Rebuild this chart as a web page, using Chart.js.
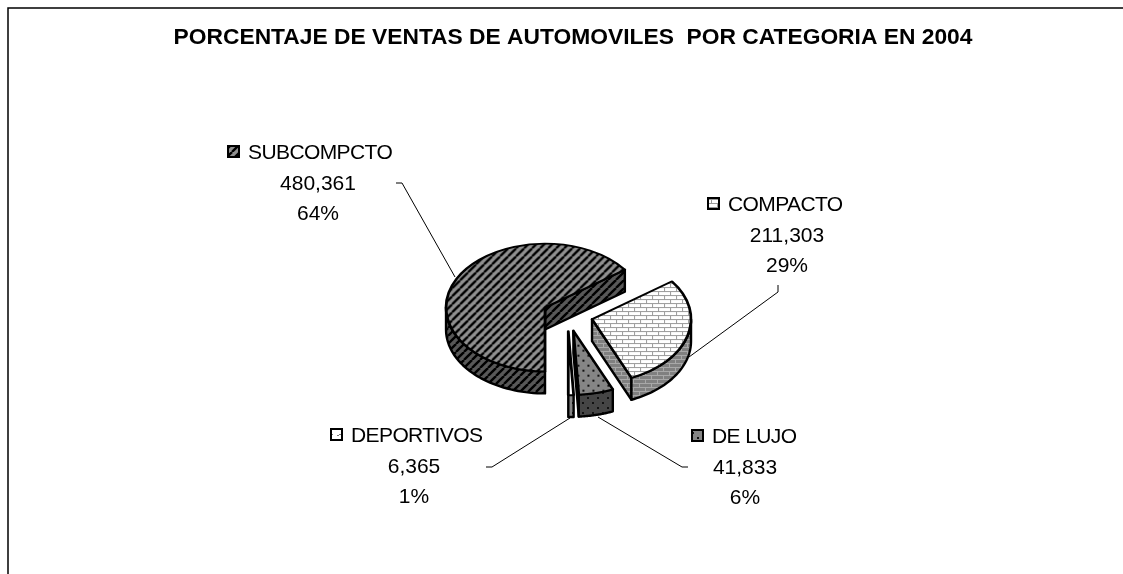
<!DOCTYPE html>
<html>
<head>
<meta charset="utf-8">
<title>Ventas de automoviles</title>
<script src="https://cdn.jsdelivr.net/npm/chart.js@4"></script>
<style>
  html, body { margin: 0; padding: 0; background: #fff; }
  canvas { display: block; }
</style>
</head>
<body>
<canvas id="canvas" width="1123" height="574"></canvas>
<script>
const titleText = 'PORCENTAJE DE VENTAS DE AUTOMOVILES  POR CATEGORIA EN 2004';
const categories = ['SUBCOMPCTO', 'COMPACTO', 'DE LUJO', 'DEPORTIVOS'];
const salesValues = [480361, 211303, 41833, 6365];
const valueLabels = ['480,361', '211,303', '41,833', '6,365'];
const percentLabels = ['64%', '29%', '6%', '1%'];

// look of the fake 3d pie
const tilt = 0.645;
const pieDepth = 22;
const explodePx = 25.3;
const pieShiftX = -5.4;

// where the labels sit: key x, text x, number centre x, first line y
const labelPlaces = [
  { keyX: 227, textX: 248, midX: 318, y: 153 },
  { keyX: 707, textX: 728, midX: 787, y: 205 },
  { keyX: 691, textX: 712, midX: 745, y: 437 },
  { keyX: 330, textX: 351, midX: 414, y: 436 }
];
const leaderLines = [
  [[396, 183], [402, 183], [455, 277]],
  [[778, 285], [778, 292], [689, 357]],
  [[688, 467], [682, 467], [598, 417]],
  [[486, 467], [492, 467], [570, 418]]
];

function makeTile(w, h, paint) {
  const c = document.createElement('canvas');
  c.width = w;
  c.height = h;
  paint(c.getContext('2d'));
  return c;
}

function hatch(bg) {
  return makeTile(8, 8, function (g) {
    g.fillStyle = bg;
    g.fillRect(0, 0, 8, 8);
    g.strokeStyle = '#000';
    g.lineWidth = 2.4;
    [-8, 0, 8, 16].forEach(function (o) {
      g.beginPath();
      g.moveTo(o, 8);
      g.lineTo(o + 8, 0);
      g.stroke();
    });
  });
}

function bricks(bg, line) {
  return makeTile(12, 8, function (g) {
    g.fillStyle = bg;
    g.fillRect(0, 0, 12, 8);
    g.fillStyle = line;
    g.fillRect(0, 3, 12, 1);
    g.fillRect(0, 7, 12, 1);
    g.fillRect(3, 0, 1, 3);
    g.fillRect(9, 4, 1, 3);
  });
}

function dots(bg) {
  return makeTile(10, 10, function (g) {
    g.fillStyle = bg;
    g.fillRect(0, 0, 10, 10);
    g.fillStyle = '#111';
    g.fillRect(2, 2, 2, 2);
    g.fillRect(7, 7, 2, 2);
  });
}

function waves(bg) {
  return makeTile(8, 6, function (g) {
    g.fillStyle = bg;
    g.fillRect(0, 0, 8, 6);
    g.fillStyle = '#777';
    g.fillRect(1, 3, 2, 1);
    g.fillRect(3, 2, 2, 1);
  });
}

const ctx = document.getElementById('canvas').getContext('2d');
const topTiles = [hatch('#909090'), bricks('#ffffff', '#9a9a9a'), dots('#858585'), waves('#ffffff')];
const wallTiles = [hatch('#585858'), bricks('#808080', '#a8a8a8'), dots('#454545'), dots('#858585')];

// the arcs get drawn squashed, this keeps the pattern itself from being squashed
const topPatterns = topTiles.map(function (tile) {
  const p = ctx.createPattern(tile, 'repeat');
  p.setTransform(new DOMMatrix().scale(1, 1 / tilt));
  return p;
});
const wallPatterns = wallTiles.map(function (tile) {
  return ctx.createPattern(tile, 'repeat');
});

function wallPath(g, points) {
  g.beginPath();
  points.forEach(function (p, i) {
    if (i === 0) g.moveTo(p[0], p[1]);
    else g.lineTo(p[0], p[1]);
  });
  g.closePath();
  g.fillStyle = g.wallFill;
  g.fill();
  g.stroke();
}

function drawWalls(g, arc, index, dx, dy) {
  const r = arc.outerRadius;
  const cx = arc.x + dx;
  const cy = arc.y + dy;
  const rim = function (a, down) {
    return [cx + r * Math.cos(a), cy + r * tilt * Math.sin(a) + down];
  };
  g.wallFill = wallPatterns[index];
  g.strokeStyle = '#000';
  g.lineWidth = 2.4;
  g.lineJoin = 'round';

  // flat cut faces, only the ones turned to the viewer
  [[arc.startAngle, -1], [arc.endAngle, 1]].forEach(function (edge) {
    if (edge[1] * Math.cos(edge[0]) > 0.001) {
      wallPath(g, [[cx, cy], rim(edge[0], 0), rim(edge[0], pieDepth), [cx, cy + pieDepth]]);
    }
  });

  // round face, front half only
  [[0, Math.PI], [2 * Math.PI, 3 * Math.PI]].forEach(function (part) {
    const a0 = Math.max(arc.startAngle, part[0]);
    const a1 = Math.min(arc.endAngle, part[1]);
    if (a1 <= a0) return;
    const upper = [];
    const lower = [];
    for (let i = 0; i <= 40; i++) {
      const a = a0 + (a1 - a0) * i / 40;
      upper.push(rim(a, 0));
      lower.unshift(rim(a, pieDepth));
    }
    wallPath(g, upper.concat(lower));
  });
}

const tiltedPie = {
  id: 'tiltedPie',
  beforeDatasetDraw: function (chart, args) {
    const g = chart.ctx;
    const arcs = chart.getDatasetMeta(args.index).data;
    arcs.forEach(function (arc, i) {
      const mid = (arc.startAngle + arc.endAngle) / 2;
      const dx = Math.cos(mid) * explodePx + pieShiftX;
      const dy = Math.sin(mid) * explodePx * tilt;
      g.save();
      drawWalls(g, arc, i, dx, dy);
      g.translate(arc.x + dx, arc.y + dy);
      g.scale(1, tilt);
      g.translate(-arc.x, -arc.y);
      arc.draw(g);
      g.restore();
    });
    return false;
  }
};

const frameAndLabels = {
  id: 'frameAndLabels',
  afterDraw: function (chart) {
    const g = chart.ctx;
    g.save();
    g.strokeStyle = '#000';
    g.lineWidth = 1.5;
    g.beginPath();
    g.moveTo(8, 574);
    g.lineTo(8, 8);
    g.lineTo(1123, 8);
    g.stroke();

    g.lineWidth = 1;
    leaderLines.forEach(function (line) {
      g.beginPath();
      line.forEach(function (p, i) {
        if (i === 0) g.moveTo(p[0], p[1]);
        else g.lineTo(p[0], p[1]);
      });
      g.stroke();
    });

    g.font = '21px "Liberation Sans", Arial, sans-serif';
    g.textBaseline = 'middle';
    categories.forEach(function (name, i) {
      const place = labelPlaces[i];
      g.fillStyle = g.createPattern(topTiles[i], 'repeat');
      g.fillRect(place.keyX + 1, place.y - 7, 11, 11);
      g.lineWidth = 2;
      g.strokeRect(place.keyX + 1, place.y - 7, 11, 11);
      g.fillStyle = '#000';
      g.textAlign = 'left';
      g.letterSpacing = '-0.6px';
      g.fillText(name, place.textX, place.y);
      g.textAlign = 'center';
      g.letterSpacing = '0px';
      g.fillText(valueLabels[i], place.midX, place.y + 31);
      g.fillText(percentLabels[i], place.midX, place.y + 61);
    });
    g.restore();
  }
};

new Chart(ctx, {
  type: 'pie',
  data: {
    labels: categories,
    datasets: [
      {
        data: salesValues,
        backgroundColor: topPatterns,
        borderColor: '#000',
        borderWidth: 2.8,
        borderJoinStyle: 'round',
        radius: 99
      }
    ]
  },
  options: {
    responsive: false,
    animation: false,
    rotation: 180,
    layout: { padding: { left: 23, top: 26 } },
    plugins: {
      legend: { display: false },
      tooltip: { enabled: false },
      title: {
        display: true,
        text: titleText,
        color: '#000',
        font: { family: '"Liberation Sans", Arial, sans-serif', size: 22.8, weight: 'bold', lineHeight: 1 },
        padding: { top: 0, bottom: 7 }
      }
    }
  },
  plugins: [tiltedPie, frameAndLabels]
});
</script>
</body>
</html>
